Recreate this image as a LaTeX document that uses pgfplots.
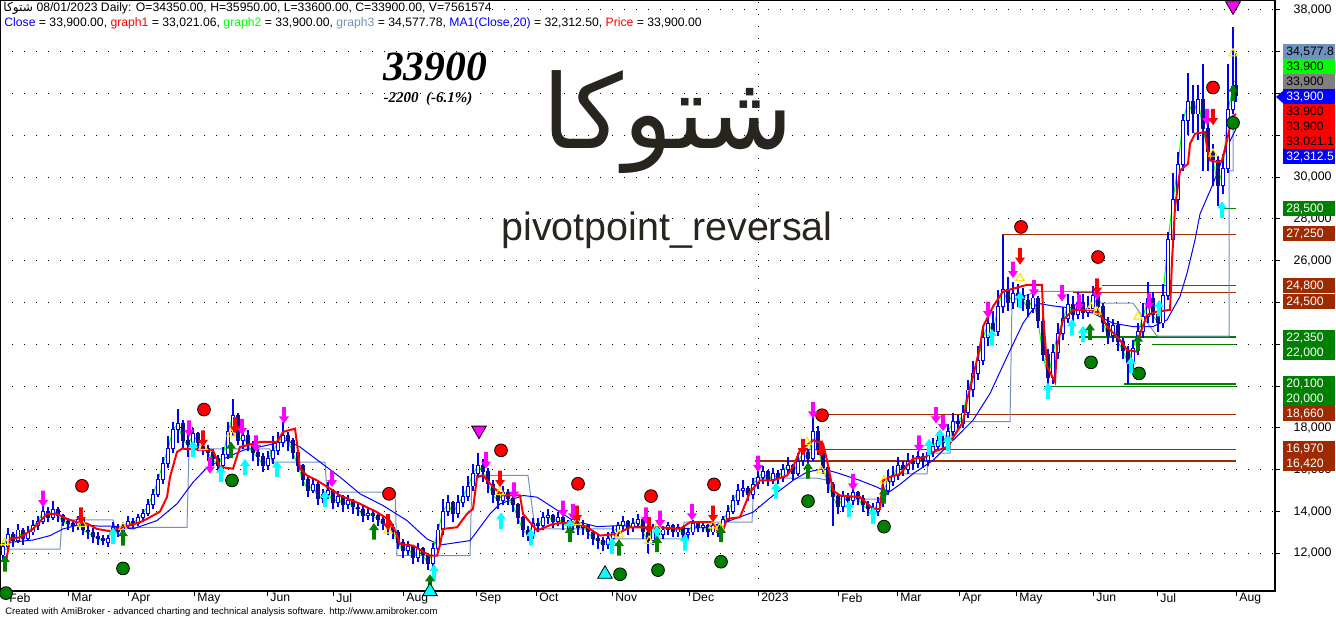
\documentclass[border=0pt]{standalone}
\usepackage{pgfplots}
\usepackage{pgfplotstable}
\usepackage{graphicx}
\pgfplotsset{compat=1.18}
\usepackage{fontspec}
\setmainfont{Liberation Sans}
\newfontfamily\arabicfont[Script=Arabic]{DejaVu Sans}
\newfontfamily\timesf{Liberation Serif}
\TeXXeTstate=1
\definecolor{amblue}{RGB}{0,0,255}
\definecolor{amnavy}{RGB}{16,16,140}
\definecolor{amred}{RGB}{255,0,0}
\definecolor{amlime}{RGB}{0,255,0}
\definecolor{amsteel}{RGB}{112,146,190}
\definecolor{ambrown}{RGB}{158,42,0}
\definecolor{amgreen}{RGB}{0,128,0}
\definecolor{amgray}{RGB}{128,128,128}
\definecolor{ammag}{RGB}{255,0,255}
\definecolor{amcyan}{RGB}{0,255,255}
\definecolor{amyellow}{RGB}{255,230,0}
\definecolor{amtext}{RGB}{40,36,30}
\pgfdeclareplotmark{uarr}{%
 \pgfpathmoveto{\pgfqpoint{0pt}{4.1pt}}%
 \pgfpathlineto{\pgfqpoint{2.5pt}{0.6pt}}%
 \pgfpathlineto{\pgfqpoint{0.95pt}{0.6pt}}%
 \pgfpathlineto{\pgfqpoint{0.95pt}{-4.1pt}}%
 \pgfpathlineto{\pgfqpoint{-0.95pt}{-4.1pt}}%
 \pgfpathlineto{\pgfqpoint{-0.95pt}{0.6pt}}%
 \pgfpathlineto{\pgfqpoint{-2.5pt}{0.6pt}}%
 \pgfpathclose\pgfusepathqfill}
\pgfdeclareplotmark{darr}{%
 \pgfpathmoveto{\pgfqpoint{0pt}{-4.1pt}}%
 \pgfpathlineto{\pgfqpoint{2.5pt}{-0.6pt}}%
 \pgfpathlineto{\pgfqpoint{0.95pt}{-0.6pt}}%
 \pgfpathlineto{\pgfqpoint{0.95pt}{4.1pt}}%
 \pgfpathlineto{\pgfqpoint{-0.95pt}{4.1pt}}%
 \pgfpathlineto{\pgfqpoint{-0.95pt}{-0.6pt}}%
 \pgfpathlineto{\pgfqpoint{-2.5pt}{-0.6pt}}%
 \pgfpathclose\pgfusepathqfill}
\pgfplotstableread{
x o h l c
3 11900 12500 11700 12300
8 12300 13200 12200 12900
13 12900 13000 12300 12600
18 12600 13400 12500 13100
23 13100 13200 12400 12700
28 12700 13300 12600 13000
33 13000 13600 12900 13300
38 13300 13800 13100 13500
43 13500 14400 13400 14000
48 14000 14200 13500 13700
53 13700 14500 13600 14100
58 14100 14200 13500 13800
63 13800 13900 13300 13500
68 13500 13700 13100 13400
73 13400 13600 13000 13300
78 13300 13800 13100 13600
83 13600 13700 12900 13100
88 13100 13300 12700 13000
93 13000 13200 12500 12800
98 12800 13000 12400 12700
103 12700 12900 12400 12600
108 12500 12900 12300 12700
113 12700 13500 12600 13200
118 13200 13400 12800 13000
123 13000 13500 12900 13300
128 13300 13800 13200 13500
133 13500 13700 13200 13400
138 13400 13900 13300 13700
143 13700 14100 13500 13900
148 13900 14600 13800 14300
153 14300 15100 14100 14800
158 14800 15800 14700 15500
163 15500 16600 15300 16300
168 16300 17600 16100 17000
173 17000 18300 16800 17900
178 17900 18900 17300 18200
183 18200 18400 17000 17400
188 17400 17700 16600 17200
193 17200 18000 16900 17700
198 17700 17800 16900 17300
203 17300 17500 16700 17000
208 17000 17200 16400 16800
213 16800 17000 16200 16500
218 16500 16700 15900 16200
223 16200 17100 16000 16700
228 16700 18300 16500 17800
233 17800 19400 17600 18600
238 18600 18700 17200 17400
243 17400 18000 17000 17600
248 17600 17900 16900 17200
253 17200 17400 16400 16800
258 16800 17000 16200 16600
263 16600 16800 15900 16200
268 16200 16900 16000 16500
273 16500 17600 16300 16900
278 16900 17800 16700 17300
283 17300 18300 17100 17600
288 17600 17800 16900 17400
293 17400 17500 16500 16800
298 16800 16900 15900 16200
303 16200 16300 15200 15500
308 15500 15700 14700 15000
313 15000 15600 14900 15300
318 15300 15400 14300 14600
323 14600 15100 14400 14800
328 14800 15400 14600 15000
333 15000 15100 14100 14400
338 14400 15000 14200 14700
343 14700 14800 14000 14300
348 14300 14800 14100 14500
353 14500 14600 13900 14200
358 14200 14400 13800 14100
363 14100 14300 13500 13800
368 13800 14200 13600 13900
373 13900 14100 13500 13800
378 13800 14000 13300 13600
383 13600 13800 13100 13400
388 13400 13600 12900 13200
393 13200 13400 12700 13000
398 13000 13100 12200 12500
403 12500 12700 11800 12100
408 12100 12600 11900 12300
413 12300 12400 11500 11800
418 11800 12500 11600 12200
423 12200 12300 11500 11900
428 11900 12000 11200 11500
433 11500 12500 11300 12200
438 12200 13400 12000 13100
443 13100 14600 12900 14000
448 14000 14800 13800 14400
453 14400 14500 13500 13900
458 13900 14800 13700 14400
463 14400 15200 14200 14700
468 14700 15700 14500 15200
473 15200 16300 15000 15800
478 15800 16800 15600 16200
483 16200 16500 15400 15900
488 15900 16100 14900 15300
493 15300 15500 14400 14800
498 14800 15000 14100 14500
503 14500 15200 14300 14900
508 14900 15100 14300 14600
513 14600 14800 14000 14300
518 14300 14400 13400 13700
523 13700 13800 12800 13100
528 13100 13300 12600 12900
533 12900 13700 12700 13400
538 13400 13700 13000 13300
543 13300 14000 13100 13700
548 13700 14100 13400 13800
553 13800 13900 13200 13500
558 13500 14000 13300 13700
563 13700 13800 13100 13400
568 13400 13600 13000 13300
573 13300 13900 13100 13600
578 13600 13700 12900 13200
583 13200 13600 12900 13300
588 13300 13400 12700 13000
593 13000 13100 12400 12700
598 12700 12900 12200 12600
603 12600 12800 12100 12400
608 12400 13000 12200 12700
613 12700 13300 12500 13000
618 13000 13500 12800 13300
623 13300 13800 13100 13500
628 13500 13600 12900 13200
633 13200 13700 13000 13400
638 13400 13900 13200 13600
643 13600 13700 12700 13000
648 13000 13100 12000 12600
653 12600 13400 12400 13200
658 13200 13300 12600 12900
663 12900 13300 12700 13100
668 13100 13500 12900 13300
673 13300 13400 12800 13000
678 13000 13400 12800 13200
683 13200 13300 12700 12900
688 12900 13200 12700 13000
693 13000 13600 12900 13400
698 13400 13500 13000 13200
703 13200 13500 13000 13300
708 13300 13400 12800 13000
713 13000 13500 12900 13300
718 13300 13400 12800 13100
723 13100 13800 13000 13600
728 13600 14300 13500 14000
733 14000 14800 13900 14500
738 14500 15300 14300 15000
743 15000 15500 14700 15100
748 15100 15200 14500 14800
753 14800 15600 14600 15300
758 15300 16000 15100 15600
763 15600 16200 15300 15900
768 15900 16000 15200 15500
773 15500 16100 15300 15800
778 15800 16000 15300 15600
783 15600 16300 15400 16000
788 16000 16600 15800 16200
793 16200 16300 15500 15800
798 15800 16800 15700 16400
803 16400 17300 16200 16800
808 16800 17000 16200 16500
813 16500 18800 16400 17800
818 17800 18100 16700 17000
823 17000 17200 15800 16100
828 16100 16300 14900 15300
833 15300 15400 13300 14700
838 14700 14900 13900 14200
843 14200 15000 14000 14700
848 14700 14900 14200 14500
853 14500 15200 14300 14900
858 14900 15000 14300 14600
863 14600 14800 14000 14300
868 14300 14500 13800 14100
873 14100 14400 13700 14000
878 14000 14700 13800 14400
883 14400 15300 14200 15000
888 15000 16000 14800 15400
893 15400 16200 15200 15700
898 15700 16600 15500 16200
903 16200 16400 15700 16000
908 16000 16800 15800 16400
913 16400 16700 16000 16300
918 16300 16900 16100 16600
923 16600 16800 16100 16400
928 16400 17200 16200 16800
933 16800 17500 16600 17100
938 17100 17800 16900 17400
943 17400 17700 17000 17300
948 17300 18200 17100 17800
953 17800 18700 17600 18300
958 18300 18600 17900 18200
963 18200 19100 18000 18700
968 18700 20300 18500 19800
973 19800 21200 19500 20600
978 20600 21900 20300 21200
983 21200 22900 21000 22300
988 22300 23700 21900 23000
993 23000 23600 22000 22600
998 22600 24600 22400 23800
1003 23800 27250 23500 24600
1008 24600 25200 23600 24000
1013 24000 25000 23700 24400
1018 24400 24900 23800 24300
1023 24300 24700 23600 24100
1028 24100 24400 23300 23700
1033 23700 24800 23500 24200
1038 24200 24300 22800 23100
1043 23100 23300 21200 21500
1048 21500 21800 20100 20400
1053 20400 22000 20100 21600
1058 21600 23000 21300 22500
1063 22500 23800 22200 23200
1068 23200 24400 23000 23900
1073 23900 24300 23100 23400
1078 23400 24500 23200 24000
1083 24000 24400 23200 23500
1088 23500 24300 23300 23700
1093 23700 24800 23500 24300
1098 24300 24600 23400 23800
1103 23800 24000 22600 23000
1108 23000 23300 22000 22400
1113 22400 23200 22100 22900
1118 22900 23100 21700 22100
1123 22100 22300 21300 21700
1128 21700 21900 20100 21100
1133 21100 22200 20800 21800
1138 21800 23000 21500 22600
1143 22600 24000 22300 23300
1148 23300 25000 23000 24200
1153 24200 24500 23000 23400
1158 23400 24000 22600 23000
1163 23000 24900 22800 24300
1168 24300 27400 24100 27000
1173 27000 30200 26800 28900
1178 28900 31200 28400 30600
1183 30600 33000 30300 32700
1188 32700 35000 32000 33600
1193 33600 34400 32100 33000
1198 33000 34400 31800 33700
1203 33700 35400 30300 32300
1208 32300 32600 30300 31200
1213 31200 31600 29600 30800
1218 30800 31000 28600 29600
1223 29600 31100 29200 30400
1228 30400 35400 30200 33200
1233 33200 37200 33000 34300
1236 34350 35950 33600 33900
}\bars
\begin{document}
\begin{tikzpicture}
\useasboundingbox (0,0) rectangle (668pt,309.5pt);
\begin{axis}[
  at={(0pt,14pt)}, anchor=south west,
  width=637.5pt, height=295.5pt, scale only axis,
  xmin=0, xmax=1275, ymin=10200, ymax=38478,
  clip=false,
  axis line style={black, line width=0.6pt},
  xtick={6,68,128,194,267,333,403,476,536,612,689,758,838,897,959,1016,1093,1157,1236},
  xticklabels={Feb,Mar,Apr,May,Jun,Jul,Aug,Sep,Oct,Nov,Dec,2023,Feb,Mar,Apr,May,Jun,Jul,Aug},
  ytick={12000,14000,...,38000},
  xtick pos=bottom, ytick pos=right, yticklabel pos=right,
  scaled y ticks=false,
  /pgf/number format/1000 sep={,},
  /pgf/number format/assume math mode=true,
  tick align=outside,
  major tick length=2.5pt,
  tick style={black, line width=0.5pt},
  ymajorgrids,
  grid style={black, line width=0.5pt, dash pattern=on 0.5pt off 5.5pt},
  xticklabel style={font=\fontsize{6.1}{7}\selectfont, anchor=north west, inner sep=0pt, xshift=1.5pt, yshift=1.5pt},
  yticklabel style={font=\fontsize{6.2}{7}\selectfont, anchor=east, inner sep=0pt, xshift=26pt},
]
\draw[black, line width=0.5pt, dash pattern=on 0.5pt off 5.5pt] (axis cs:758,10200) -- (axis cs:758,38478);
% support / resistance lines
\addplot[ambrown, line width=0.6pt] coordinates {(1002,27250) (1236,27250)};
\addplot[ambrown, line width=0.6pt] coordinates {(1102,24800) (1236,24800)};
\addplot[ambrown, line width=0.6pt] coordinates {(1073,24500) (1236,24500)};
\addplot[ambrown, line width=0.6pt] coordinates {(822,18660) (1236,18660)};
\addplot[ambrown, line width=0.6pt] coordinates {(798,16970) (1236,16970)};
\addplot[ambrown, line width=0.6pt] coordinates {(755,16420) (1236,16420)};
\addplot[amgreen, line width=0.6pt] coordinates {(1079,22350) (1236,22350)};
\addplot[amgreen, line width=0.6pt] coordinates {(1152,22000) (1236,22000)};
\addplot[amgreen, line width=0.6pt] coordinates {(1124,20100) (1236,20100)};
\addplot[amgreen, line width=0.6pt] coordinates {(1048,20000) (1236,20000)};
\addplot[amgreen, line width=0.6pt] coordinates {(1222,28500) (1236,28500)};
% graph3 step line
\addplot[amsteel, line width=0.5pt] coordinates {(3,12200) (60,12200) (62,13600) (113,13600) (115,13250) (187,13250) (189,17000) (270,17000) (272,16370) (325,16370) (327,14930) (395,14930) (397,11890) (470,11890) (472,15730) (528,15730) (535,13170) (612,13170) (614,12690) (682,12690) (684,13490) (752,13490) (754,15600) (817,15600) (828,15500) (833,14900) (840,14600) (885,14600) (893,15800) (927,15800) (929,16800) (950,16800) (952,18300) (1010,18300) (1012,24100) (1037,24530) (1093,24530) (1101,23970) (1133,23970) (1157,22400) (1229,22400) (1229,30300) (1233,30300) (1233,34578) (1236,34578)};
% MA20
\addplot[amblue, line width=0.5pt] coordinates {(10,12530) (33,12640) (50,12850) (63,13170) (80,13380) (100,13300) (113,13300) (133,13170) (157,13570) (177,14370) (193,15400) (207,16100) (227,16600) (243,16930) (267,17170) (287,17400) (300,17090) (320,16370) (340,15650) (360,14850) (383,14290) (407,13570) (427,12690) (440,12400) (470,12610) (490,13890) (500,14370) (523,14770) (537,14690) (550,14290) (573,13570) (597,13280) (620,13330) (653,13250) (680,13170) (707,13250) (730,13570) (753,13970) (773,14770) (793,15490) (807,15890) (823,16050) (840,15810) (860,15490) (877,15170) (888,14900) (900,15300) (913,15810) (933,16450) (953,17410) (973,18370) (990,19650) (1007,21410) (1023,23010) (1037,23970) (1053,23840) (1073,23730) (1093,23490) (1113,23010) (1133,22850) (1153,22850) (1167,23170) (1180,24290) (1187,25400) (1195,27000) (1200,28240) (1213,29680) (1227,31440) (1236,32312)};
% graph2: closes
\addplot[amlime, line width=0.5pt] table[x=x, y=c] {\bars};
% candles: wicks
\addplot[draw=none, mark=none, error bars/.cd, y dir=plus, y explicit, error mark=none, error bar style={draw=amblue, line width=0.6pt}] table[x=x, y=l, y error plus expr=\thisrow{h}-\thisrow{l}] {\bars};
% bodies
\addplot[draw=none, mark=none, error bars/.cd, y dir=plus, y explicit, error mark=none, error bar style={draw=amblue, line width=1.9pt}] table[x=x, y expr={min(\thisrow{o},\thisrow{c})}, y error plus expr={abs(\thisrow{c}-\thisrow{o})+40}] {\bars};
\addplot[draw=none, mark=none, restrict x to domain=0:1300, error bars/.cd, y dir=plus, y explicit, error mark=none, error bar style={draw=amnavy, line width=1.9pt}] table[x expr={\thisrow{c}<\thisrow{o} ? \thisrow{x} : -100}, y expr={min(\thisrow{o},\thisrow{c})}, y error plus expr={abs(\thisrow{c}-\thisrow{o})+40}] {\bars};
\addplot[draw=none, mark=none, restrict x to domain=0:1300, error bars/.cd, y dir=plus, y explicit, error mark=none, error bar style={draw=white, line width=0.9pt}] table[x expr={\thisrow{c}>\thisrow{o} ? \thisrow{x} : -100}, y expr={\thisrow{o}+45}, y error plus expr={max(\thisrow{c}-\thisrow{o}-50,0)}] {\bars};
% graph1 red line
\addplot[amred, line width=1pt] coordinates {(5,11330) (10,12690) (20,12770) (33,13170) (47,13890) (57,13890) (67,13650) (77,13490) (87,13430) (97,13170) (110,13060) (123,13250) (140,13490) (147,13650) (160,14000) (167,14690) (170,15650) (177,16850) (182,17010) (213,16930) (220,16130) (233,16050) (240,17090) (260,17330) (277,17330) (283,17810) (295,17970) (297,17250) (300,16050) (307,15730) (317,15490) (333,15010) (340,14770) (360,14370) (377,13970) (390,13570) (395,13090) (400,12450) (413,12370) (430,11890) (437,11890) (440,12400) (443,13170) (457,13250) (467,13890) (473,14130) (477,15650) (483,15730) (493,15170) (503,14770) (520,14770) (523,13890) (537,13090) (553,13410) (573,13490) (587,13250) (600,12850) (617,12930) (630,13250) (660,13250) (680,13170) (690,13490) (713,13490) (717,13090) (723,13090) (727,13650) (740,13730) (750,14930) (760,15490) (773,15490) (787,15730) (793,16130) (800,16930) (813,17410) (823,17250) (827,16450) (833,15010) (840,14770) (860,14690) (873,14130) (880,14130) (883,15490) (890,15650) (900,15800) (913,16530) (925,16600) (933,16850) (947,17090) (963,18290) (967,19330) (973,20450) (980,21890) (983,22850) (993,23810) (1003,24530) (1027,24850) (1042,24850) (1043,23490) (1047,20930) (1055,20210) (1057,21890) (1063,23170) (1073,23650) (1090,23650) (1100,23490) (1107,22850) (1120,22210) (1127,21730) (1137,21650) (1140,22500) (1147,23410) (1157,23570) (1170,23650) (1172,26000) (1175,28560) (1180,30320) (1188,30640) (1190,31600) (1195,32080) (1205,32160) (1207,31440) (1210,30800) (1218,30720) (1222,30800) (1227,31760) (1232,32880) (1236,33021)};
% yellow triangles
\addplot[only marks, mark=triangle, mark size=2.4pt, amyellow, mark options={line width=0.55pt}] coordinates {(5,12528) (82,13408) (123,13250) (203,17090) (231,17730) (388,13090) (500,14930) (577,13490) (619,12900) (649,12600) (657,13250) (713,13330) (720,13250) (807,17330) (821,15970) (884,15490) (1020,25170) (1091,23780) (1097,23570) (1138,23330) (1213,31120) (1233,35920)};
% circles
\addplot[only marks, mark=*, mark size=3.2pt, mark options={draw=none, fill=amred}] coordinates {(82,15232) (204,18880) (389,14850) (501,16930) (578,15330) (651,14740) (714,15300) (822,18610) (1021,27620) (1098,26180) (1213,34290)};
\addplot[only marks, mark=*, mark size=3.2pt, mark options={draw=none, fill=amgreen}] coordinates {(6,10100) (123,11280) (232,15490) (620,11000) (658,11200) (721,11600) (808,14500) (884,13280) (1091,21140) (1139,20610) (1233,32600)};
% arrows
\addplot[only marks, mark=darr, mark options={fill=ammag}] coordinates {(43,14608) (189,17968) (210,16208) (242,18048) (256,17248) (284,18608) (332,15568) (486,16448) (514,15008) (563,14128) (573,13968) (646,13808) (660,13648) (692,13968) (758,16288) (813,18848) (853,15408) (919,17248) (936,18608) (943,18240) (988,23648) (1013,25568) (1034,24688) (1062,24448) (1079,24000) (1097,24528) (1149,24048) (1207,32880)};
\addplot[only marks, mark=darr, mark options={fill=amred}] coordinates {(81,13808) (203,17488) (235,18128) (388,13488) (500,15568) (577,13888) (649,13328) (713,13888) (803,17088) (821,17008) (1020,26208) (1097,24768) (1213,32880)};
\addplot[only marks, mark=uarr, mark options={fill=amcyan}] coordinates {(113,12848) (193,17008) (221,15808) (245,16128) (277,16048) (325,14608) (434,11088) (501,13568) (531,12768) (570,13248) (612,12368) (657,12928) (685,12528) (776,15008) (849,14128) (873,13808) (929,17088) (940,17568) (948,17280) (992,22336) (1020,24128) (1048,19776) (1072,22816) (1083,22496) (1131,21008) (1159,23728) (1222,28450)};
\addplot[only marks, mark=uarr, mark options={fill=amgreen}] coordinates {(5,11520) (123,12768) (231,16960) (374,13056) (430,10608) (570,12928) (619,12288) (657,12448) (721,12928) (808,15968) (884,14768) (1090,22608) (1138,22080) (1233,34030)};
% big triangles
\addplot[only marks, mark=triangle*, mark size=4.2pt, mark options={draw=none, fill=ammag, rotate=180}] coordinates {(479,17888) (1233,38190)};
\addplot[only marks, mark=triangle*, mark size=4.2pt, mark options={draw=none, fill=amcyan}] coordinates {(430,10180) (605,11008)};
\end{axis}
% overlay texts in pixel coordinates
\begin{scope}[x=0.5pt, y=-0.5pt, yshift=309.5pt]
\node[anchor=west, inner sep=0pt, fill=white, font=\fontsize{6.1}{7}\selectfont] at (3,8) {{\arabicfont\beginR شتوکا\endR}\ 08/01/2023 Daily: O=34350.00, H=35950.00, L=33600.00, C=33900.00, V=7561574};
\node[anchor=west, inner sep=0pt, font=\fontsize{6.1}{7}\selectfont] at (4,23) {\textcolor{amblue}{Close} = 33,900.00, \textcolor{amred}{graph1} = 33,021.06, \textcolor{amlime}{graph2} = 33,900.00, \textcolor{amsteel}{graph3} = 34,577.78, \textcolor{amblue}{MA1(Close,20)} = 32,312.50, \textcolor{amred}{Price} = 33,900.00};
\node[inner sep=0pt] at (435,67) {\resizebox{52pt}{!}{\timesf\bfseries\itshape 33900}};
\node[inner sep=0pt] at (428,99) {\resizebox{44.5pt}{!}{\timesf\bfseries\itshape -2200\ \ (-6.1\%)}};
\node[inner sep=0pt, text=amtext] at (668,122) {\resizebox{125pt}{!}{\arabicfont\beginR شتوکا\endR}};
\node[inner sep=0pt, text=amtext] at (667,230) {\resizebox{165.5pt}{!}{pivotpoint\_reversal}};
\node[anchor=west, inner sep=0pt] at (5,612) {\resizebox{216pt}{!}{\fontsize{4.5}{5}\selectfont Created with AmiBroker - advanced charting and technical analysis software. http://www.amibroker.com}};
% right-side value labels
\tikzset{lab/.style={anchor=west, inner xsep=1.5pt, inner ysep=0pt, minimum height=7.5pt, text width=23pt, align=left, font=\fontsize{6.1}{7}\selectfont}}
\node[lab, fill=amsteel, text=black] at (1283,52) {34,577.8};
\node[lab, fill=amlime, text=black] at (1283,67) {33,900};
\node[lab, fill=amgray, text=black] at (1283,82) {33,900};
\fill[amblue] (1276,97) -- (1284,90) -- (1284,104) -- cycle;
\node[lab, fill=amblue, text=white] at (1283,97) {33,900};
\node[lab, fill=amred, text=black] at (1283,112) {33,900};
\node[lab, fill=amred, text=black] at (1283,127) {33,900};
\node[lab, fill=amred, text=black] at (1283,142) {33,021.1};
\node[lab, fill=amblue, text=white] at (1283,157) {32,312.5};
\node[lab, fill=amgreen, text=white] at (1283,209) {28,500};
\node[lab, fill=ambrown, text=white] at (1283,234) {27,250};
\node[lab, fill=ambrown, text=white] at (1283,286) {24,800};
\node[lab, fill=ambrown, text=white] at (1283,302) {24,500};
\node[lab, fill=amgreen, text=white] at (1283,338) {22,350};
\node[lab, fill=amgreen, text=white] at (1283,353) {22,000};
\node[lab, fill=amgreen, text=white] at (1283,384) {20,100};
\node[lab, fill=amgreen, text=white] at (1283,399) {20,000};
\node[lab, fill=ambrown, text=white] at (1283,414) {18,660};
\node[lab, fill=ambrown, text=white] at (1283,449) {16,970};
\node[lab, fill=ambrown, text=white] at (1283,464) {16,420};
\end{scope}
\end{tikzpicture}
\end{document}
